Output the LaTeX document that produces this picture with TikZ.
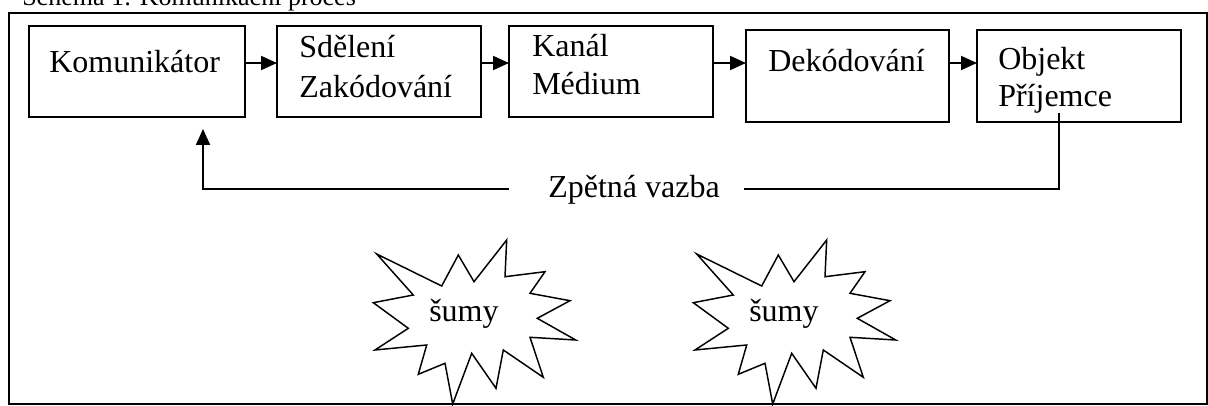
\documentclass[tikz,border=0pt]{standalone}
\usepackage{fontspec}
\setmainfont{Liberation Serif}
\usetikzlibrary{arrows.meta}
\begin{document}
\begin{tikzpicture}[x=0.75pt,y=-0.75pt,
  box/.style={draw,line width=1.4pt,inner sep=0pt,outer sep=0pt},
  lbl/.style={anchor=base west,inner sep=0pt,font=\fontsize{24}{28}\selectfont},
  arr/.style={line width=1.4pt,-{Triangle[length=12pt,width=10.5pt]}},
  fbline/.style={line width=1.4pt},
  starline/.style={draw,line width=1.1pt,line join=miter},
  noise/.pic={\draw[starline] (376.7,254) -- (441.7,286) -- (458.3,255) -- (474,281.7)
     -- (506.7,240) -- (505,276.7) -- (545,271.7) -- (530,293.3) -- (570,300.7)
     -- (537.3,318.3) -- (575.7,340) -- (530,337.3) -- (543.3,377.3) -- (503.3,350)
     -- (496,388.3) -- (471.7,353.3) -- (452.7,404) -- (445,363.3) -- (418.3,374.3)
     -- (426.7,345) -- (375,350) -- (408.3,328.3) -- (373.3,302.7) -- (413.3,295) -- cycle;}
]
\useasboundingbox (0,0) rectangle (1208,406);
\clip (0,0) rectangle (1208,406);
% caption (cut off at the top, as in the reference)
\node[anchor=base west,inner sep=0pt,font=\fontsize{19.5}{22}\selectfont] (cap) at (22,6) {Schéma 1: Komunikační proces};
% outer frame
\draw[line width=1.5pt] (9,13) rectangle (1206.5,404);
% boxes
\node[box,minimum width=162pt,minimum height=68.25pt] (b1) at (137,71.5) {};
\node[box,minimum width=153pt,minimum height=68.25pt] (b2) at (379,71.5) {};
\node[box,minimum width=153pt,minimum height=68.25pt] (b3) at (611,71.5) {};
\node[box,minimum width=152.25pt,minimum height=69pt] (b4) at (847.5,76) {};
\node[box,minimum width=153pt,minimum height=69pt] (b5) at (1079,76) {};
% texts
\node[lbl] (t1) at (49,73) {Komunikátor};
\node[lbl] (t2a) at (299,58) {Sdělení};
\node[lbl] (t2b) at (299,98) {Zakódování};
\node[lbl] (t3a) at (532,57) {Kanál};
\node[lbl] (t3b) at (532,95) {Médium};
\node[lbl] (t4) at (768,72) {Dekódování};
\node[lbl] (t5a) at (998,70) {Objekt};
\node[lbl] (t5b) at (998,107) {Příjemce};
% arrows
\draw[arr] (b1.east |- 0,63) -- (b2.west |- 0,63);
\draw[arr] (b2.east |- 0,63) -- (b3.west |- 0,63);
\draw[arr] (b3.east |- 0,63) -- (b4.west |- 0,63);
\draw[arr] (b4.east |- 0,63) -- (b5.west |- 0,63);
% feedback
\coordinate (fbs) at (1059,113);
\coordinate (fbr) at (744,189);
\coordinate (fbl) at (509,189);
\coordinate (fbe) at (203,129);
\node[lbl] (fb) at (548,198) {Zpětná vazba};
\draw[fbline] (fbs) |- (fbr);
\draw[arr] (fbl) -| (fbe);
% noise stars
\pic at (0,0) {noise};
\pic at (320,0) {noise};
\node[lbl] (s1) at (429,321.7) {šumy};
\node[lbl] (s2) at (749,321.7) {šumy};
\end{tikzpicture}
\end{document}
